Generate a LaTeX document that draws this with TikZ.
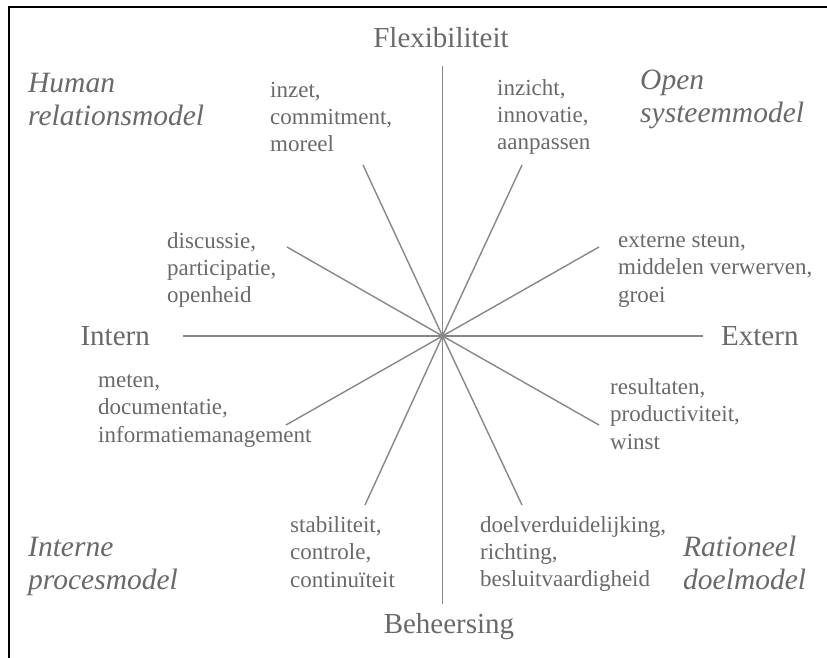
\documentclass[tikz,border=0pt]{standalone}
\usepackage{fontspec}
\setmainfont{Liberation Serif}
\definecolor{txtgray}{RGB}{105,105,105}
\definecolor{linegray}{RGB}{135,135,135}

\tikzset{
  every node/.style={inner sep=0pt,text=txtgray},
  pole/.style={font=\fontsize{29}{34}\selectfont},
  model/.style={font=\fontsize{29.5}{33}\selectfont\itshape,align=left,anchor=west},
  value/.style={font=\fontsize{23}{27.3}\selectfont,align=left,anchor=west},
  spoke/.style={draw=linegray,line width=1.4pt}
}

\begin{document}
\begin{tikzpicture}[x=1pt,y=-1pt]
      \useasboundingbox (0,0) rectangle (827,658);
      \draw [line width=2pt] (9,658) -- (9,7) -- (827,7);

      \coordinate (O) at (442.5,336);
      \coordinate (N) at (442.5,66);
      \coordinate (S) at (442.5,604);
      \coordinate (W) at (183,336);
      \coordinate (E) at (703,336);
      \coordinate (NNW) at (363,165);
      \coordinate (NNE) at (522,165);
      \coordinate (SSW) at (365,505);
      \coordinate (SSE) at (522,505);
      \coordinate (WNW) at (287,247);
      \coordinate (ENE) at (599,247);
      \coordinate (WSW) at (286,425);
      \coordinate (ESE) at (599,425);

      \foreach \to in {N,S,W,E,NNW,NNE,SSW,SSE,WNW,ENE,WSW,ESE}
        \draw [spoke] (O) -- (\to);

      \node [pole] (flex) at (441,38) {Flexibiliteit};
      \node [pole] (beh) at (449,627) {Beheersing};
      \node [pole,anchor=east] (intern) at (150,336) {Intern};
      \node [pole,anchor=west] (extern) at (721,336) {Extern};

      \node [model] (human) at (28,99) {Human\\relationsmodel};
      \node [model] (open) at (640,99) {Open\\systeemmodel};
      \node [model] (proces) at (28,566) {Interne\\procesmodel};
      \node [model] (doel) at (683,563) {Rationeel\\doelmodel};

      \node [value] (inzet) at (270,117) {inzet,\\commitment,\\moreel};
      \node [value] (inzicht) at (497,117) {inzicht,\\innovatie,\\aanpassen};
      \node [value] (discussie) at (167,270) {discussie,\\participatie,\\openheid};
      \node [value] (steun) at (618,271) {externe steun,\\middelen verwerven,\\groei};
      \node [value] (meten) at (98,411) {meten,\\documentatie,\\informatiemanagement};
      \node [value] (result) at (610,414) {resultaten,\\productiviteit,\\winst};
      \node [value] (stab) at (290,552) {stabiliteit,\\controle,\\continuïteit};
      \node [value] (richting) at (480,554) {doelverduidelijking,\\richting,\\besluitvaardigheid};
\end{tikzpicture}
\end{document}
